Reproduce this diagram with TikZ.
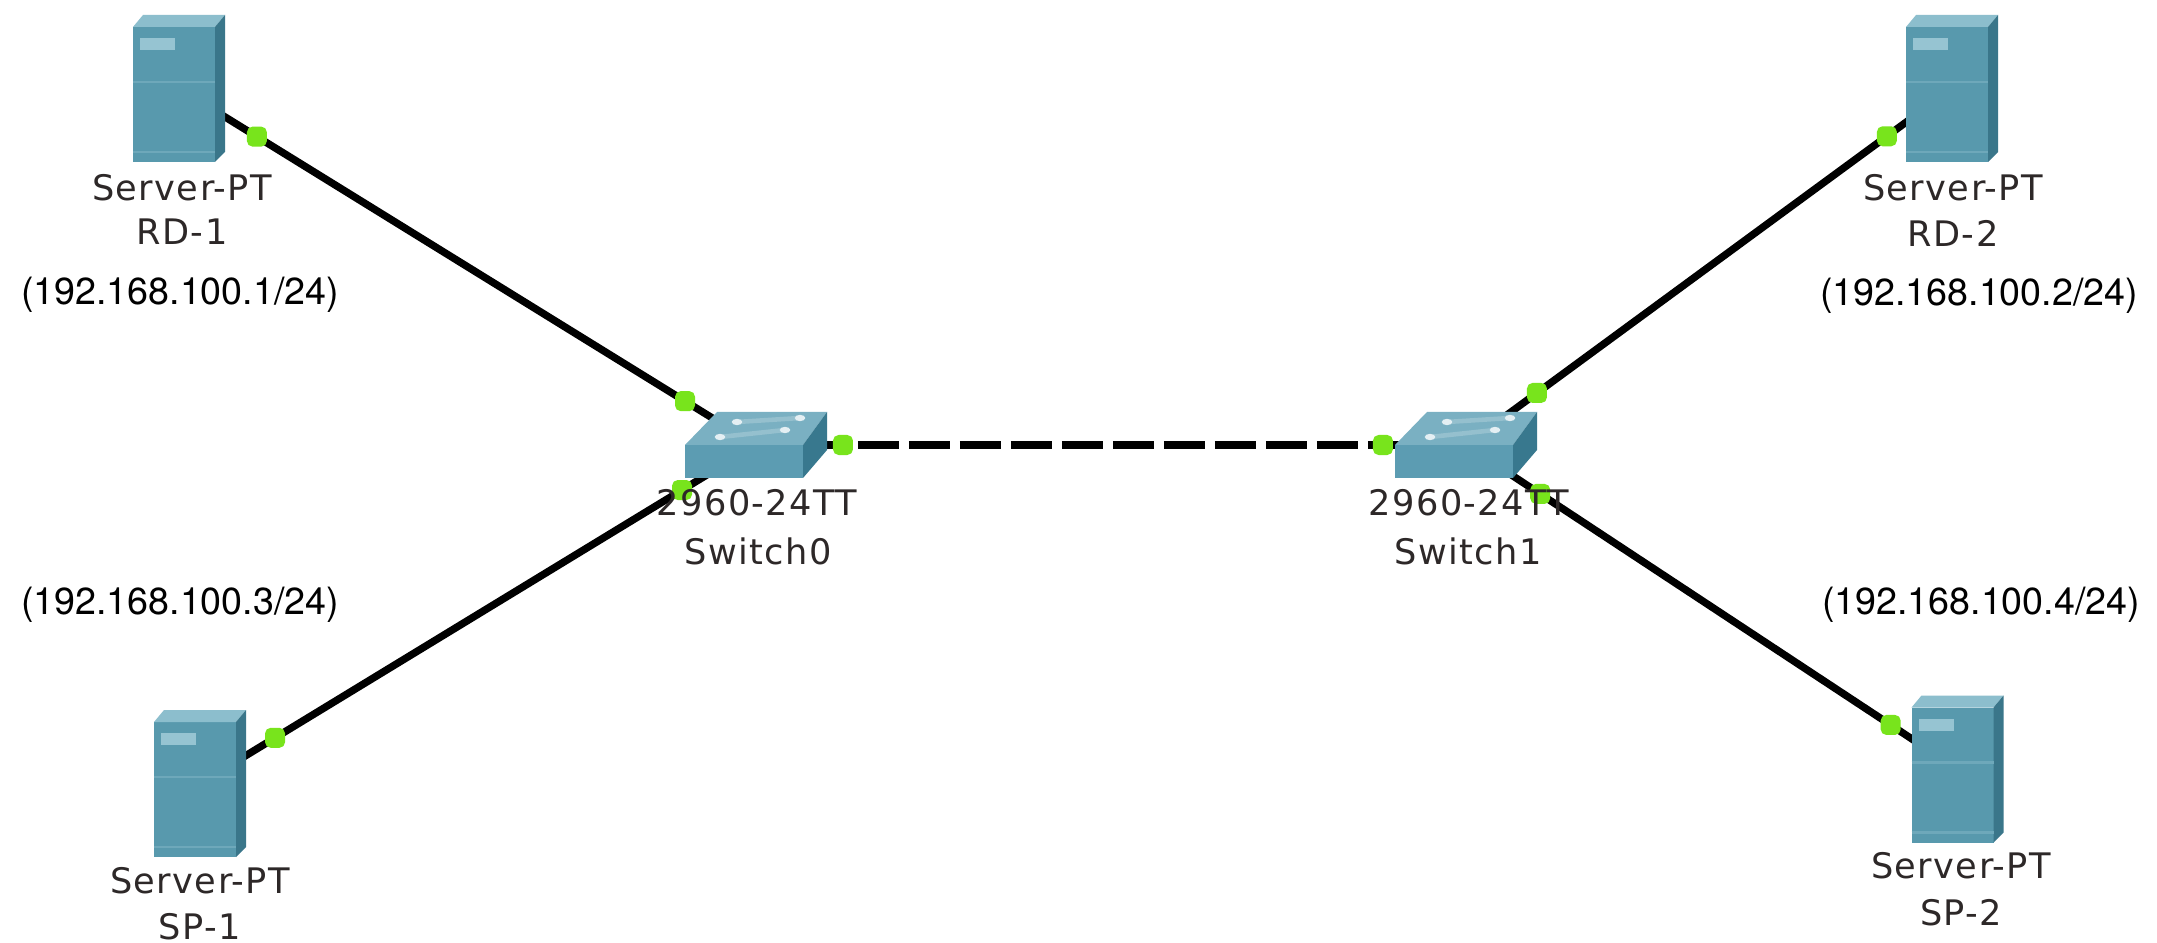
\documentclass[tikz,border=0pt]{standalone}
\usepackage{fontspec}
\setmainfont{DejaVu Sans}[LetterSpace=4]
\newfontfamily\ipfont{TeX Gyre Heros}
\definecolor{srvfront}{RGB}{88,153,173}
\definecolor{srvtop}{RGB}{140,190,205}
\definecolor{srvside}{RGB}{58,118,138}
\definecolor{srvlab}{RGB}{150,196,210}
\definecolor{srvline}{RGB}{110,168,186}
\definecolor{swtop}{RGB}{122,176,194}
\definecolor{swfront}{RGB}{92,156,178}
\definecolor{swside}{RGB}{56,120,142}
\definecolor{portgreen}{RGB}{120,228,28}
\definecolor{devtext}{RGB}{45,40,40}
\begin{document}
\begin{tikzpicture}[x=0.01cm,y=-0.01cm,
  devbox/.style={inner sep=0pt, draw=none, minimum width=0.92cm, minimum height=1.47cm},
  swbox/.style={inner sep=0pt, draw=none, minimum width=1.42cm, minimum height=0.66cm},
  link/.style={line width=2.1pt, black},
  dashlink/.style={line width=2.2pt, black, dash pattern=on 11.6pt off 2.9pt},
  port/.style={fill=portgreen, draw=none, rounded corners=1.6pt, minimum size=0.2cm, inner sep=0pt},
  devlabel/.style={inner sep=0pt, text=devtext, font=\fontsize{10}{12}\selectfont},
  iplabel/.style={inner sep=0pt, text=black, font=\ipfont\fontsize{10.7}{13}\selectfont},
  server/.pic={
    \fill[srvfront] (-46,-61.5) rectangle (36,73.5);
    \fill[srvtop] (-46,-61.5) -- (-36,-73.5) -- (46,-73.5) -- (36,-61.5) -- cycle;
    \fill[srvside] (36,-61.5) -- (46,-73.5) -- (46,63.5) -- (36,73.5) -- cycle;
    \fill[srvlab] (-39,-50.5) rectangle (-4,-38.5);
    \draw[srvline, line width=0.7pt] (-46,-6.5) -- (36,-6.5);
    \draw[srvline, line width=0.7pt] (-46,63.5) -- (36,63.5);
  },
  switchicon/.pic={
    \fill[swtop] (-71,0) -- (-39,-33) -- (71,-33) -- (47,0) -- cycle;
    \fill[swfront] (-71,0) rectangle (47,33);
    \fill[swside] (47,0) -- (71,-33) -- (71,5) -- (47,33) -- cycle;
    \draw[white!20!swtop, line width=1.3pt] (-19,-23) -- (44,-27);
    \draw[white!20!swtop, line width=1.3pt] (-36,-8) -- (29,-15);
    \fill[white!80!swtop] (-19,-23) ellipse (1.5pt and 0.9pt);
    \fill[white!80!swtop] (44,-27) ellipse (1.5pt and 0.9pt);
    \fill[white!80!swtop] (-36,-8) ellipse (1.5pt and 0.9pt);
    \fill[white!80!swtop] (29,-15) ellipse (1.5pt and 0.9pt);
  }]
\fill[white] (0,0) rectangle (2157,943);
\useasboundingbox (0,0) rectangle (2157,943);

% device placeholders
\node[devbox] (rd1) at (179,88.5) {};
\node[devbox] (rd2) at (1952,88.5) {};
\node[devbox] (sp1) at (200,783.5) {};
\node[devbox] (sp2) at (1957.5,769) {};
\node[swbox] (sw0) at (756,445) {};
\node[swbox] (sw1) at (1466,445) {};

% connectors with port markers
\draw[link] (rd1.center) -- (sw0.center)
  node[port, pos=0.135] (p1) {} node[port, pos=0.877] (p2) {};
\draw[link] (sp1.center) -- (sw0.center)
  node[port, pos=0.135] (p3) {} node[port, pos=0.867] (p4) {};
\draw[dashlink] (sw0.center) -- (sw1.center)
  node[port, pos=0.1225] (p5) {} node[port, pos=0.883] (p6) {};
\draw[link] (rd2.center) -- (sw1.center)
  node[port, pos=0.134] (p7) {} node[port, pos=0.854] (p8) {};
\draw[link] (sp2.center) -- (sw1.center)
  node[port, pos=0.136] (p9) {} node[port, pos=0.849] (p10) {};

% icons
\pic at (rd1.center) {server};
\pic at (rd2.center) {server};
\pic at (sp1.center) {server};
\pic at (sp2.center) {server};
\pic at (sw0.center) {switchicon};
\pic at (sw1.center) {switchicon};

% device labels
\node[devlabel] (rd1a) at (182,188) {Server-PT};
\node[devlabel] (rd1b) at (182,232) {RD-1};
\node[devlabel] (rd2a) at (1953,188) {Server-PT};
\node[devlabel] (rd2b) at (1953,233) {RD-2};
\node[devlabel] (sp1a) at (200,881) {Server-PT};
\node[devlabel] (sp1b) at (200,927) {SP-1};
\node[devlabel] (sp2a) at (1961,866) {Server-PT};
\node[devlabel] (sp2b) at (1961,913) {SP-2};
\node[devlabel] (sw0a) at (757,503) {2960-24TT};
\node[devlabel] (sw0b) at (758,551) {Switch0};
\node[devlabel] (sw1a) at (1469,503) {2960-24TT};
\node[devlabel] (sw1b) at (1468,551) {Switch1};

% address labels
\node[iplabel] (ip1) at (180,295) {(192.168.100.1/24)};
\node[iplabel] (ip2) at (1979,296) {(192.168.100.2/24)};
\node[iplabel] (ip3) at (180,605) {(192.168.100.3/24)};
\node[iplabel] (ip4) at (1981,605) {(192.168.100.4/24)};
\end{tikzpicture}
\end{document}
